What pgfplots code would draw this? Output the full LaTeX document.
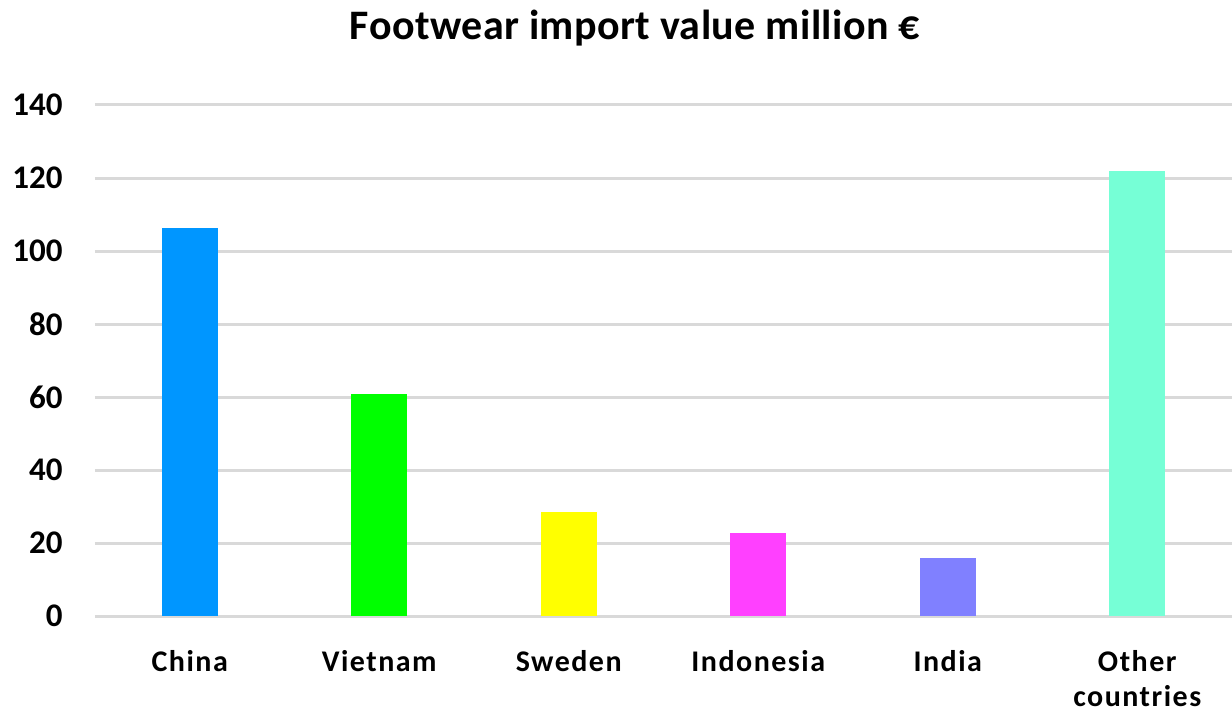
\documentclass[border=0pt]{standalone}
\usepackage{fontspec}
\setmainfont{Carlito}
\usepackage{pgfplots}
\pgfplotsset{compat=1.18}
\definecolor{cChina}{HTML}{0096FF}
\definecolor{cViet}{HTML}{00FF00}
\definecolor{cSwe}{HTML}{FFFF00}
\definecolor{cIndo}{HTML}{FF40FF}
\definecolor{cIndia}{HTML}{8080FF}
\definecolor{cOther}{HTML}{76FFD6}
\definecolor{gridc}{HTML}{D9D9D9}
\begin{document}
\begin{tikzpicture}
\path[use as bounding box] (-47.5pt,-48.5pt) rectangle (568.5pt,308pt);
\begin{axis}[
  at={(0,0)}, anchor=south west,
  scale only axis, width=568.5pt, height=255.5pt,
  xmin=-0.5, xmax=5.5, ymin=0, ymax=140,
  ytick={0,20,...,140},
  xtick={0,1,2,3,4,5},
  xticklabels={China,Vietnam,Sweden,Indonesia,India,{Other\\countries}},
  axis line style={draw=none},
  tick style={draw=none},
  major tick length=0pt,
  ymajorgrids,
  grid style={draw=gridc, line width=1.5pt},
  /pgf/number format/assume math mode=true,
  yticklabel style={font=\fontsize{16.5}{18}\selectfont\bfseries, anchor=east, inner sep=0pt, xshift=-16pt},
  xticklabel style={font=\fontsize{15}{17.5}\selectfont\bfseries\addfontfeature{LetterSpace=5}, align=center, anchor=north, inner sep=0pt, yshift=-17pt},
  clip=false,
]
\addplot[ybar, bar width=28pt, bar shift=0pt, fill=cChina, draw=none] coordinates {(0,106.2)};
\addplot[ybar, bar width=28pt, bar shift=0pt, fill=cViet, draw=none] coordinates {(1,60.8)};
\addplot[ybar, bar width=28pt, bar shift=0pt, fill=cSwe, draw=none] coordinates {(2,28.5)};
\addplot[ybar, bar width=28pt, bar shift=0pt, fill=cIndo, draw=none] coordinates {(3,22.7)};
\addplot[ybar, bar width=28pt, bar shift=0pt, fill=cIndia, draw=none] coordinates {(4,15.9)};
\addplot[ybar, bar width=28pt, bar shift=0pt, fill=cOther, draw=none] coordinates {(5,122.0)};
\end{axis}
\node[anchor=base, font=\fontsize{21}{24}\selectfont\bfseries\addfontfeature{LetterSpace=1}, inner sep=0pt] at (270pt,288pt) {Footwear import value million €};
\end{tikzpicture}
\end{document}
